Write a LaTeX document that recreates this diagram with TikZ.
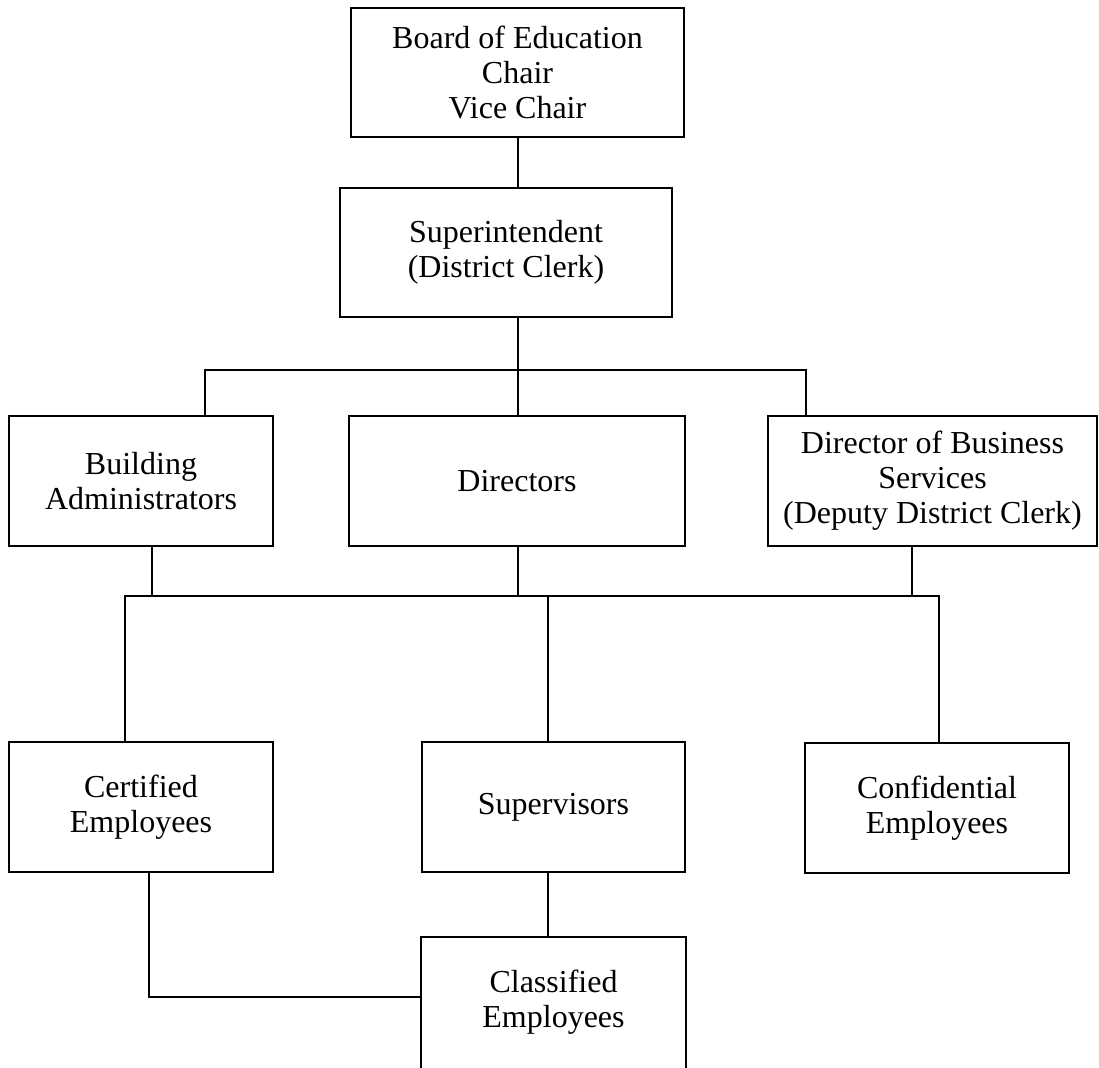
\documentclass[tikz,border=0pt]{standalone}
\usepackage{fontspec}
\setmainfont{Liberation Serif}
\begin{document}
\begin{tikzpicture}[x=1pt,y=-1pt,
  box/.style={draw, line width=2.2pt, inner sep=0pt, align=center,
    font=\fontsize{32}{35}\selectfont},
  conn/.style={line width=1.4pt}]
\useasboundingbox[fill=white] (0,0) rectangle (1099,1067);
% boxes
\node[box, minimum width=333pt, minimum height=129pt] (board) at (517.5,72.5) {Board of Education\\Chair\\Vice Chair};
\node[box, minimum width=332pt, minimum height=129pt] (super) at (506,252.5) {Superintendent\\(District Clerk)};
\node[box, minimum width=264pt, minimum height=130pt] (bldg) at (141,481) {Building\\Administrators};
\node[box, minimum width=336pt, minimum height=130pt] (dirs) at (517,481) {Directors};
\node[box, minimum width=329pt, minimum height=130pt] (dbs) at (932.5,481) {Director of Business\\Services\\(Deputy District Clerk)};
\node[box, minimum width=264pt, minimum height=130pt] (cert) at (141,807) {Certified\\Employees};
\node[box, minimum width=263pt, minimum height=130pt] (sup) at (553.5,807) {Supervisors};
\node[box, minimum width=264pt, minimum height=130pt] (conf) at (937,808) {Confidential\\Employees};
\node[box, draw=none, minimum width=263pt, minimum height=129pt] (class) at (553.5,1002.5) {Classified\\Employees};
\draw[line width=2.2pt] (class.south west) -- (class.north west) -- (class.north east) -- (class.south east);
% junction coordinates
\coordinate (j1) at (518,370);
\coordinate (bus1L) at (205,370);
\coordinate (bus1R) at (806,370);
\coordinate (bus2L) at (125,596);
\coordinate (bus2R) at (939,596);
\coordinate (b1) at (152,596);
\coordinate (b2) at (518,596);
\coordinate (b3) at (912,596);
\coordinate (d2) at (548,596);
\coordinate (c1) at (149,997);
% connectors
\draw[conn] (board.south -| j1) -- (j1 |- super.north);
\draw[conn] (j1 |- super.south) -- (j1);
\draw[conn] (bus1L |- bldg.north) -- (bus1L) -- (bus1R) -- (bus1R |- dbs.north);
\draw[conn] (j1) -- (j1 |- dirs.north);
\draw[conn] (b1 |- bldg.south) -- (b1);
\draw[conn] (b2 |- dirs.south) -- (b2);
\draw[conn] (b3 |- dbs.south) -- (b3);
\draw[conn] (bus2L |- cert.north) -- (bus2L) -- (bus2R) -- (bus2R |- conf.north);
\draw[conn] (d2) -- (d2 |- sup.north);
\draw[conn] (d2 |- sup.south) -- (d2 |- class.north);
\draw[conn] (c1 |- cert.south) -- (c1) -- (c1 -| class.west);
\end{tikzpicture}
\end{document}
